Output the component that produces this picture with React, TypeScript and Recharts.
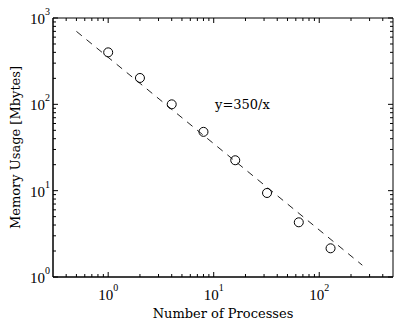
import { ComposedChart, Line, Scatter, XAxis, YAxis, ReferenceArea, ReferenceDot } from 'recharts';

// measured values
const PROCESSES = [1, 2, 4, 8, 16, 32, 64, 128];
const MEMORY_MB = [400, 202, 100, 48, 22.5, 9.4, 4.3, 2.15];

// fitted curve y = 350 / x, drawn between its two end points
const FIT_X = [0.5, 256];
const FIT_Y = [700, 1.37];

const X_DOMAIN = [0.3, 500];
const Y_DOMAIN = [1, 1000];

const X_TICKS = [
  0.4, 0.5, 0.6, 0.7, 0.8, 0.9,
  1, 2, 3, 4, 5, 6, 7, 8, 9,
  10, 20, 30, 40, 50, 60, 70, 80, 90,
  100, 200, 300, 400,
];
const Y_TICKS = [
  1, 2, 3, 4, 5, 6, 7, 8, 9,
  10, 20, 30, 40, 50, 60, 70, 80, 90,
  100, 200, 300, 400, 500, 600, 700, 800, 900,
  1000,
];
const X_MAJOR = [1, 10, 100];
const X_EXP = ['0', '1', '2'];
const Y_MAJOR = [1, 10, 100, 1000];
const Y_EXP = ['0', '1', '2', '3'];

const ANNOTATION = { x: 10.3, y: 88, text: 'y=350/x' };

const W = 399;
const H = 323;
const MARGIN = { top: 18, right: 6, left: 0, bottom: 0 };
const Y_AXIS_W = 53;
const X_AXIS_H = 46;
const PLOT_W = W - Y_AXIS_W - MARGIN.right;
const PLOT_H = H - MARGIN.top - X_AXIS_H;

const TICK_FONT = '"Liberation Serif", "Times New Roman", serif';
const LABEL_FONT = '"DejaVu Serif", serif';

const points = PROCESSES.map((x, i) => ({ x, y: MEMORY_MB[i] }));
const fit = FIT_X.map((x, i) => ({ x, y: FIT_Y[i] }));

function XTick(props: any) {
  const { x, y, payload } = props;
  const idx = X_MAJOR.indexOf(payload.value);
  const len = idx >= 0 ? 5 : 3;
  return (
    <g>
      <line x1={x} y1={y} x2={x} y2={y - len} stroke="#000" />
      <line x1={x} y1={y - PLOT_H} x2={x} y2={y - PLOT_H + len} stroke="#000" />
      {idx >= 0 && (
        <text x={x} y={y + 23} textAnchor="middle" fontSize={15} fontFamily={TICK_FONT} fill="#000">
          10<tspan dy={-9} fontSize={10}>{X_EXP[idx]}</tspan>
        </text>
      )}
    </g>
  );
}

function YTick(props: any) {
  const { x, y, payload } = props;
  const idx = Y_MAJOR.indexOf(payload.value);
  const len = idx >= 0 ? 5 : 3;
  return (
    <g>
      <line x1={x} y1={y} x2={x + len} y2={y} stroke="#000" />
      <line x1={x + PLOT_W} y1={y} x2={x + PLOT_W - len} y2={y} stroke="#000" />
      {idx >= 0 && (
        <text x={x - 3} y={y + 6} textAnchor="end" fontSize={15} fontFamily={TICK_FONT} fill="#000">
          10<tspan dy={-9} fontSize={10}>{Y_EXP[idx]}</tspan>
        </text>
      )}
    </g>
  );
}

const Circle = (props: any) => (
  <circle cx={props.cx} cy={props.cy} r={4.5} fill="none" stroke="#000" strokeWidth={1} />
);

export default function App() {
  return (
    <div style={{ position: 'absolute', left: 0, top: 0, width: W, height: H, background: '#fff' }}>
      <ComposedChart width={W} height={H} margin={MARGIN}>
        <XAxis
          type="number"
          dataKey="x"
          scale="log"
          domain={X_DOMAIN}
          allowDataOverflow
          ticks={X_TICKS}
          interval={0}
          height={X_AXIS_H}
          tickLine={false}
          tickSize={0}
          tickMargin={0}
          axisLine={{ stroke: '#000' }}
          tick={<XTick />}
          label={(p: any) => (
            <text
              x={p.viewBox.x + p.viewBox.width / 2}
              y={318}
              textAnchor="middle"
              fontSize={13}
              fontFamily={LABEL_FONT}
              fill="#000"
            >
              Number of Processes
            </text>
          )}
        />
        <YAxis
          type="number"
          dataKey="y"
          scale="log"
          domain={Y_DOMAIN}
          allowDataOverflow
          ticks={Y_TICKS}
          interval={0}
          width={Y_AXIS_W}
          tickLine={false}
          tickSize={0}
          tickMargin={0}
          axisLine={{ stroke: '#000' }}
          tick={<YTick />}
          label={(p: any) => {
            const cy = p.viewBox.y + p.viewBox.height / 2;
            return (
              <text
                x={20}
                y={cy}
                transform={`rotate(-90 20 ${cy})`}
                textAnchor="middle"
                fontSize={13}
                fontFamily={LABEL_FONT}
                fill="#000"
              >
                Memory Usage [Mbytes]
              </text>
            );
          }}
        />
        <ReferenceArea
          x1={X_DOMAIN[0]}
          x2={X_DOMAIN[1]}
          y1={Y_DOMAIN[0]}
          y2={Y_DOMAIN[1]}
          fill="none"
          stroke="#000"
          strokeOpacity={1}
        />
        <Line
          data={fit}
          dataKey="y"
          type="linear"
          stroke="#222"
          strokeWidth={1}
          strokeDasharray="7 6"
          dot={false}
          activeDot={false}
          isAnimationActive={false}
        />
        <Scatter data={points} dataKey="y" shape={<Circle />} isAnimationActive={false} />
        <ReferenceDot
          x={ANNOTATION.x}
          y={ANNOTATION.y}
          r={0}
          fill="none"
          stroke="none"
          label={(p: any) => (
            <text
              x={p.viewBox.x}
              y={p.viewBox.y}
              textAnchor="start"
              fontSize={13}
              fontFamily={LABEL_FONT}
              fill="#000"
            >
              {ANNOTATION.text}
            </text>
          )}
        />
      </ComposedChart>
    </div>
  );
}
